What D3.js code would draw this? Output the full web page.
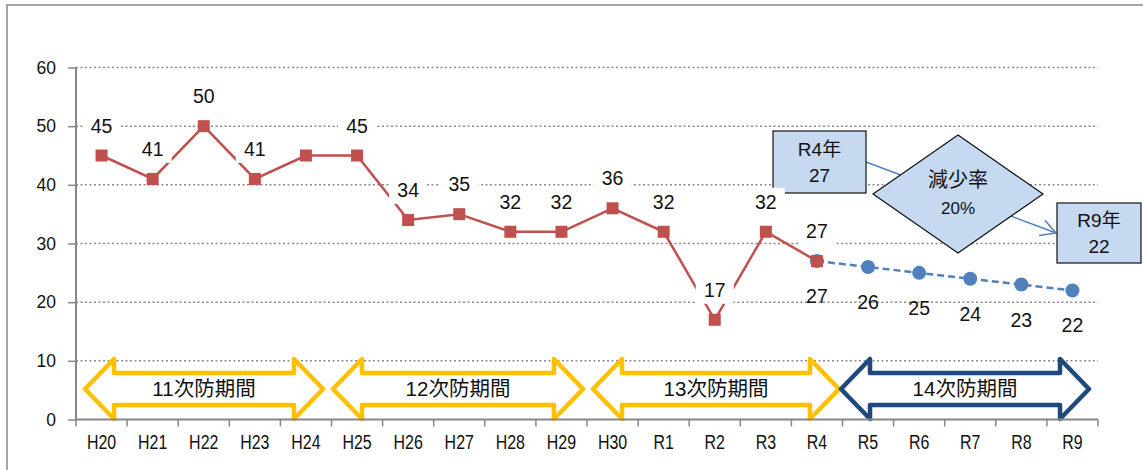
<!DOCTYPE html>
<html><head><meta charset="utf-8">
<script src="https://cdn.jsdelivr.net/npm/d3@7"></script>
<style>
body{margin:0;background:#fff;}
svg{display:block;font-family:"Liberation Sans",Arial,"Noto Sans CJK JP",sans-serif;}
</style></head><body>
<svg id="c" width="1143" height="470"></svg>
<script>
const categories = ["H20","H21","H22","H23","H24","H25","H26","H27","H28","H29","H30","R1","R2","R3","R4","R5","R6","R7","R8","R9"];
const actualValues = [45,41,50,41,45,45,34,35,32,32,36,32,17,32,27];
const actualLabels = [45,41,50,41,null,45,34,35,32,32,36,32,17,32,27];
const targetCategories = ["R4","R5","R6","R7","R8","R9"];
const targetValues = [27,26,25,24,23,22];
const yTicks = [0,10,20,30,40,50,60];
const periodNames = ["11次防期間","12次防期間","13次防期間","14次防期間"];
const periodStart = ["H20","H25","H30","R5"];
const periodEnd = ["H24","H29","R4","R9"];
const periodColors = ["#FFC000","#FFC000","#FFC000","#1F497D"];
const startYearText = ["R4年","27"];
const endYearText = ["R9年","22"];
const rateText = ["減少率","20%"];

const svg = d3.select("#c");
const x = d3.scaleBand().domain(categories).range([76,1098]);
const y = d3.scaleLinear().domain([0,60]).range([419.5,67.5]);
const cx = c => x(c) + x.bandwidth()/2;

// outer border
svg.append("rect").attr("x",7).attr("y",5).attr("width",1200).attr("height",520)
  .attr("fill","none").attr("stroke","#a6a6a6").attr("stroke-width",2);

// gridlines
svg.append("g").selectAll("line").data(yTicks.filter(v=>v>0)).join("line")
  .attr("x1",76).attr("x2",1098).attr("y1",d=>y(d)).attr("y2",d=>y(d))
  .attr("stroke","#8a8a8a").attr("stroke-width",1.5).attr("stroke-dasharray","2,2.5");

// y axis
const ya = svg.append("g").attr("transform","translate(76,0)")
  .call(d3.axisLeft(y).tickValues(yTicks).tickSize(8).tickPadding(12));
ya.select(".domain").attr("stroke","#868686").attr("stroke-width",2).attr("d","M0,"+y(60)+"V"+y(0));
ya.selectAll(".tick line").attr("stroke","#868686").attr("stroke-width",1.5);
ya.selectAll(".tick text").attr("font-size",17.5).attr("fill","#111").attr("font-family","Liberation Sans, Arial");

// period arrows
const shapeLayout = [[85,323],[333,583],[593,839],[841,1089]];
const acy = 389, head = 29, hh = 30, sh = 16;
periodNames.forEach((name,i)=>{
  const L = shapeLayout[i][0], R = shapeLayout[i][1];
  const p = `M${L},${acy} L${L+head},${acy-hh} L${L+head},${acy-sh} L${R-head},${acy-sh} L${R-head},${acy-hh} L${R},${acy} L${R-head},${acy+hh} L${R-head},${acy+sh} L${L+head},${acy+sh} L${L+head},${acy+hh} Z`;
  svg.append("path").attr("d",p).attr("fill","#fff").attr("stroke",periodColors[i])
    .attr("stroke-width",4.5).attr("stroke-linejoin","round");
  svg.append("text").attr("x",(L+R)/2).attr("y",acy).attr("dy","0.36em")
    .attr("text-anchor","middle").attr("font-size",20.5).attr("fill","#111").text(name);
});

// x axis
const xa = svg.append("g");
xa.append("line").attr("x1",76).attr("x2",1098).attr("y1",y(0)).attr("y2",y(0))
  .attr("stroke","#868686").attr("stroke-width",2);
const edges = categories.map(c=>x(c)).concat([x.range()[1]]);
xa.selectAll("line.t").data(edges).join("line").attr("class","t")
  .attr("x1",d=>d).attr("x2",d=>d).attr("y1",y(0)).attr("y2",y(0)+7)
  .attr("stroke","#868686").attr("stroke-width",1.5);
xa.selectAll("text").data(categories).join("text")
  .attr("transform",d=>`translate(${cx(d)},441) scale(0.76,1)`).attr("dy","0.36em").attr("text-anchor","middle")
  .attr("font-size",21).attr("fill","#111").text(d=>d);

// callout arrow line (behind diamond)
const a0=[866,162], a1=[1056,233];
svg.append("line").attr("x1",a0[0]).attr("y1",a0[1]).attr("x2",a1[0]).attr("y2",a1[1])
  .attr("stroke","#4F81BD").attr("stroke-width",1.5);
{
  const ang = Math.atan2(a1[1]-a0[1],a1[0]-a0[0]);
  const len = 17, spread = 0.5;
  const p1=[a1[0]-len*Math.cos(ang-spread), a1[1]-len*Math.sin(ang-spread)];
  const p2=[a1[0]-len*Math.cos(ang+spread), a1[1]-len*Math.sin(ang+spread)];
  svg.append("path").attr("d",`M${p1}L${a1}L${p2}`).attr("fill","none")
    .attr("stroke","#4F81BD").attr("stroke-width",1.5);
}
// boxes
function box(x0,y0,w,h,lines){
  svg.append("rect").attr("x",x0).attr("y",y0).attr("width",w).attr("height",h)
    .attr("fill","#C6D9F1").attr("stroke","#111").attr("stroke-width",1.2);
  lines.forEach((t,i)=>svg.append("text").attr("x",x0+w/2).attr("y",y0+h/2+(i-0.5)*26).attr("dy","0.36em")
    .attr("text-anchor","middle").attr("font-size",19).attr("fill","#111").text(t));
}
box(773,131,93,62,startYearText);
box(1057,203,84,60,endYearText);
{
  const dcx=958, dcy=194, dw=85, dh=59;
  svg.append("path").attr("d",`M${dcx-dw},${dcy}L${dcx},${dcy-dh}L${dcx+dw},${dcy}L${dcx},${dcy+dh}Z`)
    .attr("fill","#C6D9F1").attr("stroke","#111").attr("stroke-width",1.2);
  rateText.forEach((t,i)=>svg.append("text").attr("x",dcx).attr("y",dcy+(i-0.5)*28).attr("dy","0.36em")
    .attr("text-anchor","middle").attr("font-size",i===0?20:17).attr("fill","#111").text(t));
}

// target (dashed blue)
const tdata = targetCategories.map((c,i)=>({c,v:targetValues[i]}));
svg.append("path").datum(tdata).attr("fill","none").attr("stroke","#4F81BD").attr("stroke-width",2.5)
  .attr("stroke-dasharray","7,4").attr("d",d3.line().x(d=>cx(d.c)).y(d=>y(d.v)));
svg.append("g").selectAll("circle").data(tdata).join("circle")
  .attr("cx",d=>cx(d.c)).attr("cy",d=>y(d.v)).attr("r",7).attr("fill","#4F81BD");

// actual (red)
const adata = actualValues.map((v,i)=>({c:categories[i],v,l:actualLabels[i]}));
svg.append("path").datum(adata).attr("fill","none").attr("stroke","#C0504D").attr("stroke-width",2.5)
  .attr("d",d3.line().x(d=>cx(d.c)).y(d=>y(d.v)));
svg.append("g").selectAll("rect").data(adata).join("rect")
  .attr("x",d=>cx(d.c)-6).attr("y",d=>y(d.v)-6).attr("width",12).attr("height",12).attr("fill","#C0504D");

// labels red (white boxes)
const lg = svg.append("g");
adata.filter(d=>d.l!==null).forEach(d=>{
  const ly = y(d.v)-30;
  lg.append("rect").attr("x",cx(d.c)-19).attr("y",ly-14).attr("width",38).attr("height",28).attr("fill","#fff");
  lg.append("text").attr("x",cx(d.c)).attr("y",ly).attr("dy","0.36em").attr("text-anchor","middle")
    .attr("font-size",19.5).attr("fill","#111").text(d.l);
});
// labels blue
svg.append("g").selectAll("text").data(tdata).join("text")
  .attr("x",d=>cx(d.c)).attr("y",d=>y(d.v)+35).attr("dy","0.36em").attr("text-anchor","middle")
  .attr("font-size",19.5).attr("fill","#111").text(d=>d.v);
</script></body></html>
